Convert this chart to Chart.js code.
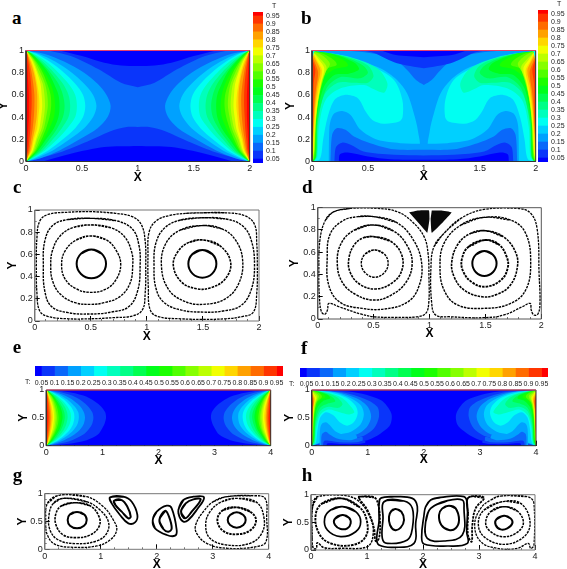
<!DOCTYPE html>
<html>
<head>
<meta charset="utf-8">
<style>
html,body{margin:0;padding:0;background:#fff;overflow:hidden}
#page{position:relative;width:567px;height:569px}
canvas{position:absolute}
.tag{position:absolute;font:bold 19px/1 "Liberation Serif",serif;color:#000}
.small{position:absolute;font:7px/1 "Liberation Sans",sans-serif;color:#222}
</style>
</head>
<body>
<div id="page"></div>
<script src="https://cdn.jsdelivr.net/npm/chart.js@4/dist/chart.umd.min.js"></script>
<script>
// contour levels and the colour of each band between them
const tLevels = [0.05,0.1,0.15,0.2,0.25,0.3,0.35,0.4,0.45,0.5,0.55,0.6,0.65,0.7,0.75,0.8,0.85,0.9,0.95];
const tBarEnds = [0.025,0.975];
const bandColors = ['#0000ff','#0a35fa','#0a68fa','#00a1ff','#00d0ff','#00fff2','#00ffbc','#00ff86','#00ff50','#00ff1b','#1bff00','#50ff00','#86ff00','#bcff00','#f2ff00','#ffd600','#ffa100','#ff6b00','#ff3500','#ff0000'];

const ticks2 = [0,0.5,1,1.5,2];
const ticks4 = [0,1,2,3,4];
const ticksY5 = [0,0.2,0.4,0.6,0.8,1];
const ticksY2 = [0,0.5,1];

const lobeY = [0.97,0.9,0.8,0.7,0.6,0.5,0.4,0.3,0.2,0.1,0.03];

// panel a: x of each level at the heights in lobeY, first row is band 3
const aLobes = [
  [.16,.34,.52,.64,.72,.757,.73,.64,.48,.3,.13],
  [.11,.26,.41,.52,.6,.63,.6,.52,.39,.24,.09],
  [.09,.21,.34,.44,.51,.53,.51,.44,.33,.2,.07],
  [.07,.18,.29,.38,.44,.455,.44,.37,.28,.17,.06],
  [.06,.15,.25,.33,.38,.395,.38,.32,.24,.15,.05],
  [.05,.13,.22,.29,.33,.345,.33,.28,.21,.13,.04],
  [.05,.12,.2,.25,.29,.3,.29,.25,.18,.11,.04],
  [.04,.1,.17,.22,.25,.26,.25,.21,.16,.1,.03],
  [.03,.09,.15,.19,.22,.225,.21,.18,.14,.09,.03],
  [.03,.08,.13,.17,.19,.195,.18,.16,.12,.08,.02],
  [.02,.07,.11,.15,.165,.17,.16,.14,.1,.07,.02],
  [.02,.06,.1,.13,.14,.145,.135,.12,.09,.06,.02],
  [.02,.05,.08,.1,.115,.12,.11,.1,.07,.05,.01],
  [.01,.04,.07,.09,.1,.1,.095,.08,.06,.04,.01],
  [.01,.03,.05,.065,.075,.075,.07,.06,.045,.03,.01],
  [.01,.02,.035,.045,.05,.05,.045,.04,.03,.02,0],
  [0,.01,.015,.02,.025,.025,.025,.02,.015,.01,0]
];
// cold regions of a, left half up to the middle: [band, x,y,...]
const aCold = [
  [1, [.2,1,.4,.95,.65,.83,.85,.71,1,.67]],
  [0, [.3,1,.5,.95,.7,.89,.85,.865,1,.86]],
  [1, [.03,0,.3,.08,.55,.18,.75,.27,.9,.31,1,.31]],
  [0, [.15,0,.4,.07,.7,.13,1,.14]]
];

// panel e: first row is band 1
const eLobes = [
  [.36,.66,.86,.98,1.05,1.065,1.04,.99,.92,.72,.36],
  [.22,.46,.64,.75,.82,.84,.82,.76,.66,.46,.2],
  [.14,.33,.5,.61,.67,.69,.67,.61,.5,.32,.13],
  [.1,.26,.41,.51,.57,.58,.56,.5,.4,.25,.09],
  [.08,.21,.35,.44,.49,.5,.48,.43,.34,.21,.07],
  [.07,.18,.3,.38,.43,.44,.42,.37,.29,.18,.06],
  [.06,.16,.26,.33,.37,.38,.36,.32,.25,.15,.05],
  [.05,.13,.22,.28,.32,.33,.31,.27,.21,.13,.04],
  [.04,.12,.19,.25,.28,.29,.27,.24,.18,.11,.04],
  [.04,.1,.17,.22,.25,.255,.24,.21,.16,.1,.03],
  [.03,.09,.15,.19,.21,.22,.21,.18,.14,.08,.03],
  [.03,.08,.13,.16,.18,.19,.18,.16,.12,.07,.02],
  [.02,.06,.11,.14,.16,.165,.155,.14,.1,.06,.02],
  [.02,.05,.09,.12,.135,.14,.13,.115,.085,.05,.02],
  [.02,.04,.07,.095,.11,.115,.105,.09,.07,.04,.01],
  [.01,.03,.06,.075,.085,.09,.085,.07,.055,.03,.01],
  [.01,.025,.04,.055,.065,.07,.065,.055,.04,.025,.01],
  [0,.015,.03,.035,.04,.045,.04,.035,.025,.015,0],
  [0,.005,.01,.015,.02,.02,.02,.015,.01,.005,0]
];

// panel b: left wall regions [band, x,y,...]
const bWarm = [
  [4, [0,.99,.2,.97,.35,.93,.61,.84,.76,.735,.85,.615,.91,.435,.948,.27,.95,.12,.5,.02,0,0]],
  [5, [0,1,.25,.94,.525,.86,.733,.735,.808,.555,.81,.4,.78,.36,.64,.34,.54,.375,.48,.45,.41,.57,.29,.6,.2,.555,.14,.4,.1,.2,.07,.02,0,0]],
  [6, [.033,.99,.346,.94,.584,.84,.674,.705,.644,.62,.554,.65,.465,.69,.256,.66,.122,.555,.063,.315,.048,.045,.018,0,0,0]],
  [7, [.03,.99,.3,.945,.5,.865,.55,.77,.5,.71,.38,.71,.23,.71,.11,.6,.055,.35,.04,.05,.015,0,0,0]],
  [8, [.03,.99,.25,.955,.45,.87,.5,.8,.43,.75,.25,.76,.13,.66,.05,.36,.038,.05,.012,0,0,0]],
  [9, [.03,.99,.2,.965,.38,.89,.42,.83,.33,.79,.2,.78,.1,.66,.045,.38,.035,.05,.012,0,0,0]],
  [10, [.03,.99,.15,.97,.3,.9,.32,.86,.2,.83,.1,.74,.05,.5,.035,.3,.03,.05,.01,0,0,0]],
  [11, [.02,.99,.1,.97,.2,.91,.22,.87,.12,.83,.07,.7,.04,.45,.03,.2,.02,.04,0,0]],
  [12, [.02,.99,.1,.95,.16,.88,.12,.8,.07,.62,.035,.4,.025,.15,.015,.03,0,0]],
  [13, [.02,.98,.08,.92,.13,.85,.09,.73,.055,.55,.03,.3,.02,.1,0,0]],
  [14, [.015,.98,.06,.92,.11,.84,.08,.7,.045,.5,.025,.3,.015,.1,0,0]],
  [15, [.015,.97,.05,.9,.09,.82,.065,.68,.035,.5,.02,.3,.01,.1,0,0]],
  [16, [.01,.96,.04,.9,.075,.82,.05,.68,.028,.5,.015,.3,0,.1]],
  [17, [0,.96,.03,.88,.055,.8,.035,.65,.02,.5,.01,.3,0,.15]],
  [18, [0,.93,.03,.83,.015,.7,.01,.4,0,.2]]
];
// panel b: regions running over the middle, left half only
const bCold = [
  [3, [.15,0,.155,.3,.17,.38,.2,.435,.27,.455,.345,.42,.435,.285,.585,.195,.79,.165,1,.16]],
  [2, [.165,0,.18,.24,.22,.3,.3,.285,.375,.225,.52,.165,.73,.11,1,.105]],
  [1, [.2,0,.215,.13,.27,.17,.345,.15,.46,.09,.73,.06,1,.055]],
  [0, [.24,0,.25,.065,.32,.08,.5,.045,.7,.02,1,.015]],
  [2, [.3,1,.5,.98,.73,.93,.85,.825,.93,.735,1,.69]],
  [1, [.45,1,.55,.98,.76,.885,1,.84]],
  [0, [.62,1,.75,.96,1,.94]]
];

// panel f: left wall regions, the rows with x running to y=0 after band 5 are the cold mounds
const fWarm = [
  [1, [.012,.988,.695,.97,1.23,.82,1.42,.58,1.397,.37,1.23,.22,.993,.1,.576,.06,.16,.012,0,0]],
  [2, [.01,.99,.55,.96,.95,.84,1.17,.7,1.2,.52,1.11,.31,.93,.18,.7,.12,.4,.08,0,0]],
  [3, [.01,.99,.45,.96,.8,.85,1,.7,1.06,.52,.98,.33,.8,.2,.5,.14,.3,.1,0,0]],
  [4, [.01,.99,.4,.96,.7,.85,.88,.72,.93,.56,.87,.38,.7,.25,.5,.2,.25,.1,0,0]],
  [5, [.01,.99,.35,.95,.62,.86,.78,.72,.82,.58,.75,.42,.63,.36,.5,.42,.38,.55,.25,.6,.15,.5,.1,.25,.07,.05,0,0]],
  [3, [.14,0,.15,.3,.18,.39,.25,.42,.32,.37,.42,.26,.6,.19,.78,.2,.82,.1,.82,0]],
  [2, [.17,0,.18,.2,.25,.25,.32,.2,.45,.13,.7,.1,.9,.16,.9,0]],
  [1, [.2,0,.22,.08,.3,.09,.5,.06,.8,.06,.95,.09,.95,0]],
  [0, [.26,0,.28,.04,.5,.03,.8,.03,.95,.05,1,.07,1,0]],
  [6, [.01,.99,.3,.95,.55,.85,.7,.7,.76,.6,.66,.56,.5,.6,.3,.65,.15,.55,.08,.3,.06,.05,.01,0,0,0]],
  [7, [.01,.99,.25,.95,.45,.87,.55,.75,.48,.68,.3,.7,.15,.62,.07,.35,.05,.05,0,0]],
  [8, [.01,.99,.2,.955,.36,.88,.42,.8,.3,.76,.15,.68,.07,.45,.045,.1,0,0]],
  [9, [.01,.99,.16,.96,.3,.9,.33,.85,.2,.8,.1,.68,.06,.45,.04,.1,0,0]],
  [10, [.01,.99,.12,.96,.22,.91,.24,.87,.13,.8,.07,.65,.04,.4,.03,.1,0,0]],
  [11, [.01,.99,.1,.96,.17,.91,.18,.87,.09,.78,.05,.6,.03,.35,.02,.1,0,0]],
  [12, [.01,.98,.07,.95,.13,.89,.08,.77,.04,.55,.025,.3,.015,.08,0,0]],
  [13, [.01,.98,.05,.94,.1,.88,.06,.75,.03,.5,.02,.3,.01,.08,0,0]],
  [14, [.01,.97,.04,.93,.08,.86,.045,.72,.025,.5,.015,.3,0,.08]],
  [15, [.01,.96,.03,.92,.06,.84,.035,.7,.02,.5,.01,.3,0,.1]],
  [16, [0,.96,.02,.9,.045,.83,.025,.68,.015,.5,.008,.3,0,.12]],
  [17, [0,.94,.015,.88,.03,.8,.018,.65,.01,.45,0,.2]],
  [18, [0,.9,.02,.8,.01,.6,.005,.4,0,.25]]
];

// streamlines: [line width, x,y,...]
const cLoops = [
  [1, [.5,.985,.72,.97,.87,.94,.95,.87,.985,.72,.99,.5,.985,.25,.96,.1,.87,.045,.7,.03,.5,.02,.3,.02,.12,.04,.045,.09,.02,.25,.015,.5,.02,.75,.045,.9,.12,.96,.3,.98]],
  [1.1, [.5,.925,.72,.905,.87,.83,.93,.68,.94,.5,.92,.28,.84,.13,.68,.08,.5,.063,.3,.075,.15,.13,.09,.27,.077,.5,.09,.72,.16,.86,.3,.915]],
  [1.1, [.5,.865,.68,.84,.8,.76,.865,.62,.874,.5,.85,.34,.76,.22,.62,.165,.5,.15,.36,.165,.23,.24,.16,.36,.143,.5,.16,.64,.23,.77,.35,.845]],
  [1.1, [.5,.766,.64,.73,.73,.63,.767,.51,.73,.38,.64,.29,.5,.258,.37,.29,.27,.38,.24,.51,.27,.63,.37,.73]],
  [2, [.505,.645,.597,.607,.636,.515,.597,.423,.505,.385,.413,.423,.374,.515,.413,.607]],
  [1, [1.5,.975,1.7,.975,1.87,.95,1.96,.87,1.98,.7,1.985,.5,1.98,.25,1.95,.08,1.85,.04,1.7,.02,1.5,.015,1.3,.02,1.1,.04,1.03,.1,1.013,.3,1.01,.6,1.02,.8,1.08,.9,1.2,.95,1.35,.97]],
  [1.1, [1.5,.93,1.7,.92,1.85,.86,1.93,.73,1.96,.5,1.93,.28,1.84,.14,1.68,.09,1.5,.08,1.3,.1,1.15,.17,1.08,.3,1.064,.5,1.08,.7,1.16,.84,1.3,.91]],
  [1.1, [1.5,.86,1.67,.83,1.79,.73,1.854,.55,1.82,.34,1.7,.2,1.5,.15,1.33,.18,1.19,.29,1.13,.5,1.17,.7,1.3,.82]],
  [1.3, [1.5,.73,1.65,.68,1.747,.53,1.7,.38,1.57,.3,1.45,.29,1.31,.35,1.236,.5,1.28,.63,1.38,.71]],
  [2, [1.495,.64,1.583,.603,1.62,.515,1.583,.427,1.495,.39,1.407,.427,1.37,.515,1.407,.603]]
];
const dLoops = [
  [1, [.146,.964,.295,.994,.534,.994,.712,.964,.846,.874,.951,.74,.987,.59,.995,.38,.993,.14,.966,.05,.891,.02,.683,.015,.504,.02,.385,.045,.19,.11,.1,.14,.087,.08,.063,.042,.033,.066,.015,.2,.01,.41,.02,.71,.07,.89]],
  [1.1, [.5,.92,.7,.87,.85,.72,.93,.5,.9,.28,.8,.15,.6,.09,.4,.095,.2,.15,.1,.3,.085,.55,.11,.76,.22,.88,.36,.92]],
  [1.2, [.5,.845,.68,.79,.8,.66,.845,.5,.79,.33,.65,.21,.5,.17,.34,.22,.22,.33,.175,.5,.21,.68,.33,.8]],
  [1.3, [.5,.74,.65,.7,.75,.58,.75,.43,.66,.32,.52,.27,.38,.31,.29,.42,.28,.55,.33,.67,.41,.73]],
  [1.1, [.51,.62,.595,.585,.63,.5,.595,.415,.51,.375,.425,.415,.39,.5,.425,.585]],
  [1, [1.13,.77,1.28,.904,1.487,.985,1.785,.994,1.905,.95,1.964,.8,1.98,.41,1.988,.14,1.97,.045,1.934,.036,1.91,.08,1.9,.14,1.83,.11,1.666,.036,1.487,.012,1.19,.02,1.055,.036,1.02,.14,1.013,.47,1.04,.65]],
  [1.1, [1.487,.913,1.726,.889,1.86,.77,1.905,.5,1.86,.26,1.726,.14,1.5,.096,1.25,.126,1.13,.26,1.094,.47,1.13,.68,1.28,.844]],
  [1.3, [1.5,.793,1.66,.74,1.77,.6,1.785,.46,1.72,.3,1.6,.22,1.47,.2,1.31,.26,1.22,.38,1.2,.52,1.26,.68,1.37,.77]],
  [1.6, [1.5,.71,1.62,.67,1.69,.56,1.7,.46,1.64,.35,1.5,.29,1.38,.33,1.3,.43,1.29,.54,1.35,.65]],
  [2, [1.49,.61,1.567,.578,1.6,.5,1.567,.42,1.49,.386,1.415,.42,1.383,.5,1.415,.578]]
];
// the two dark wedges under the lid in d
const dWedges = [
  [.817,.958,.9,.975,.995,.975,1,.9,.98,.775,.93,.83],
  [1.02,.975,1.1,.975,1.198,.958,1.12,.87,1.02,.775,1.01,.9]
];
const gLoops = [
  [1, [.274,.976,.75,.946,1.048,.766,1.226,.527,1.286,.347,1.167,.168,.929,.06,.512,.036,.185,.09,.048,.257,.018,.497,.048,.826]],
  [1.1, [.333,.916,.75,.856,.988,.707,1.137,.497,1.107,.287,.929,.15,.571,.102,.244,.168,.095,.347,.077,.617,.155,.826]],
  [1.3, [.542,.838,.81,.784,.97,.587,.97,.407,.81,.257,.571,.21,.333,.257,.202,.437,.202,.647,.304,.784]],
  [2, [.577,.67,.702,.63,.75,.527,.702,.425,.577,.377,.452,.425,.41,.527,.452,.63]],
  [1.8, [1.167,.934,1.405,.946,1.554,.856,1.655,.617,1.613,.485,1.494,.467,1.345,.617,1.196,.826]],
  [2, [1.238,.874,1.375,.886,1.476,.766,1.536,.587,1.494,.557,1.375,.677,1.26,.8]],
  [1.8, [1.929,.527,2,.677,2.179,.784,2.268,.737,2.357,.347,2.327,.245,2.179,.257,1.97,.377]],
  [2, [2.048,.527,2.149,.689,2.208,.617,2.268,.377,2.208,.317,2.119,.365]],
  [1.8, [2.387,.707,2.476,.886,2.655,.946,2.845,.934,2.714,.707,2.565,.527,2.476,.497,2.405,.587]],
  [2, [2.435,.677,2.518,.826,2.655,.898,2.786,.898,2.625,.677,2.506,.557]],
  [1, [3.25,.946,3.726,.964,3.935,.916,3.964,.557,3.952,.138,3.786,.048,3.25,.018,2.893,.108,2.714,.287,2.696,.437,2.833,.677,3.012,.857]],
  [1.1, [3.429,.916,3.786,.844,3.917,.557,3.875,.287,3.667,.108,3.25,.078,2.952,.198,2.875,.437,2.952,.677,3.16,.856]],
  [1.6, [3.429,.754,3.667,.677,3.774,.527,3.679,.347,3.429,.27,3.19,.329,3.083,.527,3.19,.707]],
  [2, [3.429,.665,3.548,.617,3.589,.527,3.548,.437,3.429,.389,3.31,.437,3.268,.527,3.31,.617]]
];
const hLoops = [
  [1.2, [.024,.753,.113,.964,.53,.994,.827,.904,1.036,.633,1.113,.331,1.006,.06,.53,.03,.232,.042,.113,.133,.095,.03,.042,.03,.018,.211]],
  [1.6, [.542,.934,.857,.783,.994,.542,.976,.241,.738,.09,.351,.12,.143,.301,.083,.633,.202,.843]],
  [1.7, [.56,.783,.798,.693,.887,.512,.798,.331,.53,.241,.292,.361,.244,.572,.351,.723]],
  [2, [.56,.633,.679,.584,.708,.482,.649,.392,.53,.38,.429,.452,.423,.56]],
  [1.5, [.857,.964,1.125,.952,1.202,.813,1.232,.512,1.214,.211,1.155,.163,1.125,.392,1.006,.723,.857,.934]],
  [1.7, [1.244,.934,1.482,.964,1.81,.934,1.899,.783,1.869,.482,1.839,.12,1.482,.048,1.214,.09,1.173,.211,1.214,.512,1.214,.813]],
  [1.7, [1.304,.873,1.661,.886,1.81,.753,1.81,.392,1.72,.181,1.363,.12,1.274,.211,1.286,.572]],
  [2, [1.512,.741,1.613,.693,1.661,.542,1.601,.404,1.494,.361,1.411,.452,1.393,.602,1.435,.705]],
  [1.7, [2.137,.904,2.315,.952,2.732,.964,2.792,.813,2.78,.331,2.792,.12,2.435,.072,2.018,.108,1.976,.241,2.018,.633,2.048,.783]],
  [1.7, [2.137,.753,2.435,.892,2.702,.904,2.732,.753,2.702,.271,2.375,.163,2.077,.211,2.048,.512]],
  [2, [2.464,.801,2.583,.753,2.643,.542,2.583,.392,2.464,.361,2.327,.452,2.286,.633,2.345,.753]],
  [1.5, [2.81,.946,3.089,.946,2.94,.753,2.881,.452,2.869,.151,2.804,.271,2.804,.633]],
  [1, [3.387,.976,3.863,.964,3.982,.843,3.982,.09,3.923,.03,3.881,.12,3.685,.03,3.327,.03,3.03,.151,2.923,.452,3.03,.753,3.208,.904]],
  [1.1, [3.417,.873,3.744,.843,3.911,.512,3.804,.241,3.446,.102,3.089,.241,2.988,.482,3.089,.723]],
  [1.2, [3.446,.783,3.685,.705,3.792,.482,3.655,.301,3.417,.241,3.208,.331,3.119,.482,3.208,.693]],
  [2, [3.446,.62,3.565,.572,3.595,.482,3.506,.392,3.387,.373,3.298,.452,3.31,.554]]
];

const page = document.getElementById('page');

function toPoints(flat) {
  const pts = [];
  for (let i = 0; i < flat.length; i += 2) pts.push({ x: flat[i], y: flat[i + 1] });
  return pts;
}
function flip(pts, xmax) {
  return pts.map(p => ({ x: xmax - p.x, y: p.y }));
}
function area(pts, band) {
  return { data: pts, showLine: true, fill: 'shape', tension: 0.3, pointRadius: 0, borderWidth: 0, backgroundColor: bandColors[band] };
}
function boxArea(xmax, band) {
  return area(toPoints([0, 0, xmax, 0, xmax, 1, 0, 1]), band);
}
// one region at the left wall and its twin at the right wall
function wallPair(rows, xmax) {
  const out = [];
  rows.forEach(([band, flat]) => {
    const pts = toPoints(flat);
    out.push(area(pts, band), area(flip(pts, xmax), band));
  });
  return out;
}
function lobeRows(rows, firstBand) {
  return rows.map((row, i) => {
    const flat = [0, 1];
    row.forEach((x, j) => flat.push(x, lobeY[j]));
    flat.push(0, 0);
    return [firstBand + i, flat];
  });
}
function overMiddle(rows, xmax) {
  return rows.map(([band, flat]) => {
    const left = toPoints(flat);
    return area(left.concat(flip(left, xmax).reverse()), band);
  });
}
// closed streamline; overlaps two points at the seam so the curve stays round
function loops(rows) {
  return rows.map(([width, flat]) => {
    const pts = toPoints(flat);
    const closed = [pts[pts.length - 1]].concat(pts, pts[0], pts[1]);
    return {
      data: closed, showLine: true, tension: 0.4, pointRadius: 0, fill: false,
      borderColor: '#000', borderWidth: width < 1.7 ? width + 0.3 : width, borderDash: width < 1.7 ? [2.5, 1] : []
    };
  });
}
function frame(xmax, color, topColor) {
  const lines = [{ data: toPoints([0, 1, 0, 0, xmax, 0, xmax, 1, 0, 1]), showLine: true, pointRadius: 0, fill: false, borderColor: color, borderWidth: 1, clip: false }];
  if (topColor) lines.push({ data: toPoints([0, 1, xmax, 1]), showLine: true, pointRadius: 0, fill: false, borderColor: topColor, borderWidth: 1, clip: false });
  return lines;
}

function addCanvas(l, t, w, h) {
  const c = document.createElement('canvas');
  c.width = w; c.height = h;
  c.style.left = l + 'px'; c.style.top = t + 'px';
  c.style.width = w + 'px'; c.style.height = h + 'px';
  page.appendChild(c);
  return c;
}
function addText(cls, text, x, y) {
  const d = document.createElement('div');
  d.className = cls; d.textContent = text;
  d.style.left = x + 'px'; d.style.top = y + 'px';
  page.appendChild(d);
}
// fixed axis size, and no extra room for labels that hang over the ends
function noPad(s) {
  s.paddingLeft = s.paddingRight = s.paddingTop = s.paddingBottom = 0;
}

function panel(o) {
  const cl = Math.round(o.yTitleX - 6), ct = Math.round(o.top - 8);
  const cw = Math.round(o.right + 12) - cl, ch = Math.round(o.xTitleY + 7) - ct;
  const fixW = w => s => { s.width = w; noPad(s); };
  const fixH = h => s => { s.height = h; noPad(s); };
  const tickFont = { family: 'Liberation Sans', size: 9 };
  const titleFont = { family: 'Liberation Sans', size: 12, weight: 'bold', lineHeight: 1 };
  const gridMajor = { drawOnChartArea: false, tickLength: -5, tickColor: '#000', tickWidth: 1 };
  const gridMinor = { drawOnChartArea: false, tickLength: -2, tickColor: '#333', tickWidth: 0.7 };
  new Chart(addCanvas(cl, ct, cw, ch), {
    type: 'scatter',
    data: { datasets: o.datasets.slice().reverse() },
    options: {
      responsive: false, animation: false, events: [],
      layout: { padding: { top: o.top - ct, right: cl + cw - o.right } },
      plugins: { legend: { display: false }, tooltip: { enabled: false } },
      scales: {
        x: {
          type: 'linear', min: 0, max: o.xmax, border: { display: false }, grid: gridMajor,
          afterBuildTicks: s => { s.ticks = o.xTicks.map(v => ({ value: v })); },
          afterFit: fixH(ct + ch - o.bottom),
          ticks: { font: tickFont, color: '#222', padding: 6.5, autoSkip: false, maxRotation: 0, callback: v => String(v) },
          title: { display: true, text: 'X', font: titleFont, color: '#000', padding: 0 }
        },
        y: {
          type: 'linear', min: 0, max: 1, border: { display: false }, grid: gridMajor,
          afterBuildTicks: s => { s.ticks = o.yTicks.map(v => ({ value: v })); },
          afterFit: fixW(o.left - cl),
          ticks: { font: tickFont, color: '#222', padding: 7, autoSkip: false, callback: v => String(v) },
          title: { display: true, text: 'Y', font: titleFont, color: '#000', padding: 0 }
        },
        xMinor: {
          type: 'linear', position: 'bottom', weight: -1, min: 0, max: o.xmax, border: { display: false }, grid: gridMinor,
          afterFit: fixH(0), ticks: { display: false, stepSize: o.xMinor, autoSkip: false }
        },
        yMinor: {
          type: 'linear', position: 'left', weight: -1, min: 0, max: 1, border: { display: false }, grid: gridMinor,
          afterFit: fixW(0), ticks: { display: false, stepSize: o.yMinor, autoSkip: false }
        }
      }
    }
  });
}

function colorBar(horizontal, l, t, w, h) {
  const edges = [tBarEnds[0]].concat(tLevels, tBarEnds[1]);
  const datasets = bandColors.map((c, i) => ({
    data: [[edges[i], edges[i + 1]]], backgroundColor: c, borderWidth: 0,
    barPercentage: 1, categoryPercentage: 1, grouped: false
  }));
  const value = {
    type: 'linear', min: tBarEnds[0], max: tBarEnds[1], border: { display: false },
    grid: { display: true, drawOnChartArea: false, drawTicks: false },
    afterBuildTicks: s => { s.ticks = tLevels.map(v => ({ value: v })); },
    ticks: { font: { family: 'Liberation Sans', size: 7 }, color: '#222', padding: 3, autoSkip: false, maxRotation: 0, callback: v => String(v) }
  };
  const band = { type: 'category', display: false };
  const extra = 14;
  const cw = horizontal ? w + 16 : w + 26, ch = horizontal ? h + extra : h + 8;
  const cl = horizontal ? l - 8 : l, ct = horizontal ? t : t - 4;
  new Chart(addCanvas(cl, ct, cw, ch), {
    type: 'bar',
    data: { labels: ['T'], datasets },
    options: {
      indexAxis: horizontal ? 'y' : 'x',
      responsive: false, animation: false, events: [],
      layout: { padding: horizontal ? { left: 8, right: 8 } : { top: 4, bottom: 4 } },
      plugins: { legend: { display: false }, tooltip: { enabled: false } },
      scales: horizontal
        ? { x: Object.assign({ position: 'bottom', afterFit: s => { s.height = extra; noPad(s); } }, value), y: band }
        : { y: Object.assign({ position: 'right', afterFit: s => { s.width = 26; noPad(s); } }, value), x: band }
    }
  });
}

// a
panel({
  left: 26, right: 249.7, top: 50.5, bottom: 161.5, yTitleX: 4, xTitleY: 176.7, xmax: 2, xMinor: 0.1, yMinor: 0.1,
  xTicks: ticks2, yTicks: ticksY5,
  datasets: [boxArea(2, 2)].concat(overMiddle(aCold, 2), wallPair(lobeRows(aLobes, 3), 2), frame(2, '#333', '#e8406a'))
});
colorBar(false, 253, 11.7, 10, 151.3);
// b
panel({
  left: 312, right: 535.7, top: 50.5, bottom: 161.5, yTitleX: 290.7, xTitleY: 175.7, xmax: 2, xMinor: 0.1, yMinor: 0.1,
  xTicks: ticks2, yTicks: ticksY5,
  datasets: [boxArea(2, 3)].concat(wallPair(bWarm, 2), overMiddle(bCold, 2), frame(2, '#333', '#e8406a'))
});
colorBar(false, 538, 10, 10, 152);
// c
panel({
  left: 34.7, right: 259, top: 210, bottom: 321, yTitleX: 12.7, xTitleY: 335.7, xmax: 2, xMinor: 0.1, yMinor: 0.1,
  xTicks: ticks2, yTicks: ticksY5,
  datasets: loops(cLoops).concat(frame(2, '#777'))
});
// d
panel({
  left: 317.7, right: 541.3, top: 207.7, bottom: 319, yTitleX: 294.7, xTitleY: 333, xmax: 2, xMinor: 0.1, yMinor: 0.1,
  xTicks: ticks2, yTicks: ticksY5,
  datasets: dWedges.map(w => ({ data: toPoints(w), showLine: true, fill: 'shape', tension: 0.1, pointRadius: 0, borderWidth: 0, backgroundColor: '#0a0a0a' }))
    .concat(loops(dLoops), frame(2, '#555'))
});
// e
colorBar(true, 35, 365.7, 248, 10.3);
addText('small', 'T:', 25, 377.5);
panel({
  left: 46.3, right: 270.7, top: 390, bottom: 445.7, yTitleX: 24, xTitleY: 460, xmax: 4, xMinor: 0.25, yMinor: 0.1,
  xTicks: ticks4, yTicks: ticksY2,
  datasets: [boxArea(4, 0)].concat(wallPair(lobeRows(eLobes, 1), 4), frame(4, '#333', '#e8406a'))
});
// f
colorBar(true, 299.7, 367.7, 248, 9.3);
addText('small', 'T:', 289, 379.5);
panel({
  left: 311.7, right: 536, top: 390, bottom: 445.7, yTitleX: 289.7, xTitleY: 459, xmax: 4, xMinor: 0.25, yMinor: 0.1,
  xTicks: ticks4, yTicks: ticksY2,
  datasets: [boxArea(4, 0)].concat(wallPair(fWarm, 4), frame(4, '#333', '#e8406a'))
});
// g
panel({
  left: 44.7, right: 268.7, top: 493.7, bottom: 549.3, yTitleX: 22.7, xTitleY: 563.7, xmax: 4, xMinor: 0.25, yMinor: 0.1,
  xTicks: ticks4, yTicks: ticksY2,
  datasets: loops(gLoops).concat(frame(4, '#777'))
});
// h
panel({
  left: 311, right: 535, top: 494.7, bottom: 550, yTitleX: 289, xTitleY: 564.3, xmax: 4, xMinor: 0.25, yMinor: 0.1,
  xTicks: ticks4, yTicks: ticksY2,
  datasets: loops(hLoops).concat(frame(4, '#777'))
});

addText('small', 'T', 272, 2);
addText('small', 'T', 557, 0);
[['a', 12, 24], ['b', 301, 24], ['c', 13, 193], ['d', 302, 193], ['e', 12.7, 353], ['f', 301, 354], ['g', 12.7, 481], ['h', 301.7, 481]]
  .forEach(([s, x, base]) => addText('tag', s, x, base - 16));
</script>
</body>
</html>
